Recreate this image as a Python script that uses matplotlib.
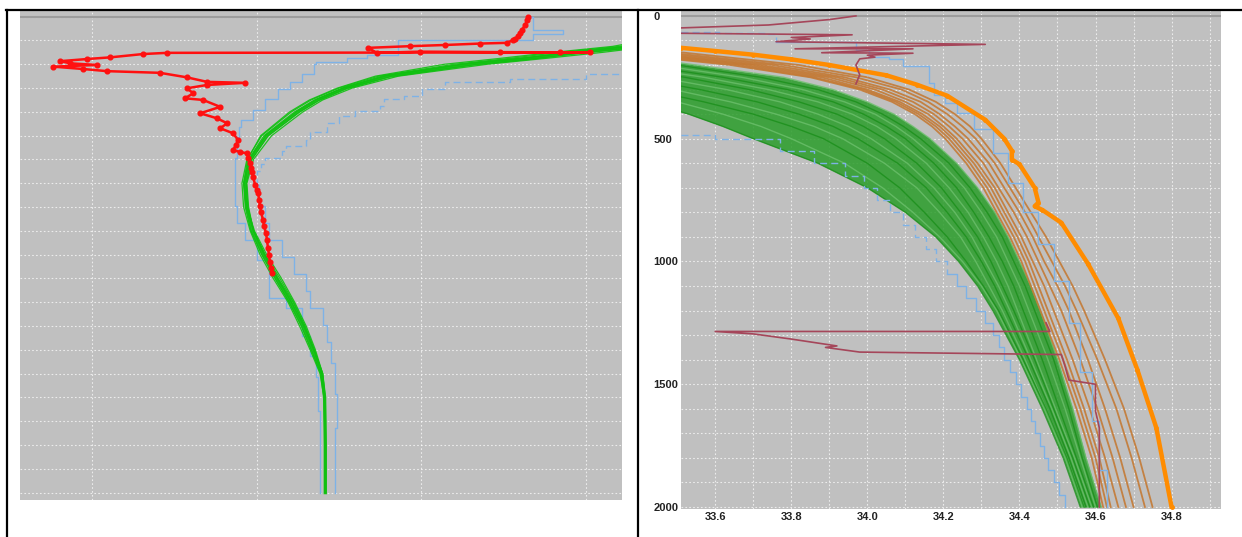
import numpy as np
import matplotlib.pyplot as plt
from matplotlib.lines import Line2D

plt.rcParams['font.family'] = ['Liberation Sans', 'DejaVu Sans']

GRAY = '#c0c0c0'
ZERO_LINE = '#9c9c9c'
BLUE = '#7eb2e6'

# ---------------- left panel data (salinity-like units, depth in m) ----------------
red_s = [35.324, 35.321, 35.315, 35.305, 35.299, 35.293, 35.284, 35.278, 35.260, 35.178,
         35.072, 34.965, 34.838, 34.865, 34.996, 35.239, 35.421, 35.512, 34.228, 34.155,
         34.055, 33.985, 33.903, 33.933, 34.015, 33.882, 33.973, 34.046, 34.206,
         34.288, 34.349, 34.464, 34.349, 34.288, 34.307, 34.282, 34.337, 34.389,
         34.328, 34.379, 34.410, 34.389, 34.428, 34.443, 34.437, 34.428, 34.449, 34.471,
         34.474, 34.480, 34.483, 34.486, 34.489, 34.495, 34.501, 34.504, 34.507, 34.510,
         34.513, 34.519, 34.522, 34.528, 34.531, 34.534, 34.537, 34.540, 34.543, 34.546]
red_d = [0, 14, 35, 56, 70, 82, 94, 98, 110, 113, 119, 124, 131, 152, 147, 149, 150, 150,
         152, 157, 171, 178, 187, 196, 203, 210, 220, 229, 236, 255, 274, 278, 287, 301,
         322, 343, 350, 379, 406, 427, 448, 469, 490, 518, 540, 560, 569, 574, 594, 615,
         636, 653, 673, 708, 729, 741, 771, 796, 821, 855, 880, 909, 939, 972, 1002, 1031,
         1057, 1077]

left_levels = [100, 125, 150, 175, 200, 250, 300, 350, 400, 500, 600, 700, 800,
               900, 1000, 1100, 1200, 1300, 1400, 1500, 1600, 1800, 2000]
left_green = [
    [35.80, 35.70, 35.55, 35.38, 35.20, 34.93, 34.79, 34.70, 34.64, 34.545, 34.49, 34.47,
     34.475, 34.49, 34.525, 34.565, 34.61, 34.645, 34.675, 34.70, 34.708, 34.71, 34.71],
    [35.78, 35.68, 35.50, 35.35, 35.17, 34.91, 34.775, 34.69, 34.63, 34.535, 34.485, 34.468,
     34.472, 34.49, 34.522, 34.562, 34.605, 34.642, 34.672, 34.698, 34.707, 34.709, 34.709],
    [35.75, 35.66, 35.48, 35.33, 35.15, 34.90, 34.77, 34.685, 34.625, 34.53, 34.48, 34.465,
     34.47, 34.487, 34.52, 34.56, 34.603, 34.64, 34.67, 34.697, 34.706, 34.708, 34.708],
    [35.72, 35.62, 35.45, 35.30, 35.12, 34.88, 34.76, 34.675, 34.615, 34.522, 34.475, 34.46,
     34.465, 34.482, 34.515, 34.555, 34.598, 34.635, 34.665, 34.695, 34.705, 34.707, 34.707],
    [35.70, 35.60, 35.42, 35.27, 35.10, 34.87, 34.75, 34.665, 34.605, 34.515, 34.47, 34.455,
     34.46, 34.48, 34.51, 34.55, 34.595, 34.63, 34.662, 34.692, 34.704, 34.707, 34.707],
    [35.68, 35.58, 35.40, 35.24, 35.07, 34.86, 34.745, 34.66, 34.60, 34.512, 34.472, 34.46,
     34.468, 34.49, 34.525, 34.57, 34.612, 34.647, 34.675, 34.698, 34.706, 34.708, 34.708],
    [35.74, 35.64, 35.46, 35.31, 35.13, 34.89, 34.765, 34.68, 34.62, 34.527, 34.478, 34.463,
     34.47, 34.493, 34.53, 34.575, 34.615, 34.65, 34.678, 34.70, 34.707, 34.708, 34.708],
]

left_blue_lo_s = [35.33, 35.338, 35.431, 35.431, 35.338, 34.929, 34.836, 34.775, 34.681,
                  34.675, 34.638, 34.600, 34.563, 34.526, 34.489, 34.452, 34.446, 34.439,
                  34.433, 34.433, 34.439, 34.464, 34.501, 34.538, 34.588, 34.638, 34.662,
                  34.681, 34.687, 34.693, 34.693]
left_blue_lo_d = [0, 57, 57, 74, 100, 160, 172, 189, 201, 240, 276, 304, 347, 391, 434,
                  463, 506, 592, 650, 794, 866, 937, 1024, 1182, 1225, 1340, 1427, 1513,
                  1657, 1801, 2000]
left_blue_hi_s = [35.70, 35.499, 35.499, 35.270, 35.270, 35.071, 35.003, 34.947, 34.886,
                  34.873, 34.799, 34.749, 34.712, 34.662, 34.650, 34.588, 34.576, 34.526,
                  34.514, 34.501, 34.508, 34.526, 34.538, 34.576, 34.613, 34.650, 34.662,
                  34.700, 34.712, 34.724, 34.737, 34.743, 34.739]
left_blue_hi_d = [240, 240, 261, 264, 276, 304, 333, 347, 376, 398, 419, 448, 484, 520,
                  542, 563, 592, 621, 650, 707, 794, 866, 937, 1009, 1081, 1153, 1225,
                  1297, 1369, 1455, 1585, 1729, 2000]

# ---------------- right panel data (salinity, depth in m) ----------------
levels = [100, 150, 200, 250, 300, 350, 400, 450, 500, 600, 700, 800, 900, 1000,
          1100, 1200, 1400, 1600, 1800, 2000]

green = [
    [33.00, 33.30, 33.55, 33.78, 33.91, 34.00, 34.07, 34.12, 34.165, 34.235, 34.29, 34.335, 34.37, 34.40, 34.43, 34.455, 34.50, 34.54, 34.575, 34.615],
    [33.00, 33.25, 33.50, 33.72, 33.87, 33.97, 34.04, 34.095, 34.14, 34.215, 34.27, 34.315, 34.355, 34.385, 34.415, 34.44, 34.49, 34.53, 34.565, 34.605],
    [33.00, 33.20, 33.45, 33.67, 33.83, 33.94, 34.02, 34.075, 34.12, 34.195, 34.255, 34.30, 34.34, 34.37, 34.40, 34.425, 34.475, 34.52, 34.56, 34.60],
    [32.95, 33.15, 33.40, 33.62, 33.79, 33.91, 33.99, 34.05, 34.10, 34.175, 34.235, 34.28, 34.32, 34.355, 34.385, 34.41, 34.46, 34.505, 34.55, 34.595],
    [32.95, 33.12, 33.35, 33.57, 33.74, 33.87, 33.96, 34.025, 34.075, 34.155, 34.215, 34.265, 34.305, 34.34, 34.37, 34.395, 34.445, 34.495, 34.545, 34.59],
    [32.95, 33.10, 33.30, 33.52, 33.69, 33.82, 33.92, 33.99, 34.045, 34.13, 34.195, 34.245, 34.29, 34.325, 34.355, 34.385, 34.44, 34.49, 34.54, 34.585],
    [32.90, 33.08, 33.25, 33.45, 33.63, 33.77, 33.87, 33.95, 34.01, 34.105, 34.175, 34.23, 34.275, 34.31, 34.345, 34.375, 34.43, 34.485, 34.535, 34.58],
    [32.90, 33.05, 33.20, 33.38, 33.56, 33.71, 33.82, 33.91, 33.975, 34.08, 34.155, 34.21, 34.26, 34.30, 34.335, 34.365, 34.425, 34.48, 34.53, 34.575],
    [32.90, 33.03, 33.17, 33.32, 33.49, 33.64, 33.76, 33.86, 33.935, 34.045, 34.13, 34.19, 34.245, 34.285, 34.32, 34.355, 34.415, 34.47, 34.525, 34.57],
    [32.90, 33.02, 33.14, 33.27, 33.42, 33.57, 33.70, 33.80, 33.885, 34.00, 34.085, 34.15, 34.21, 34.26, 34.305, 34.345, 34.41, 34.47, 34.525, 34.57],
    [32.90, 33.00, 33.12, 33.23, 33.36, 33.50, 33.62, 33.72, 33.80, 33.94, 34.04, 34.12, 34.19, 34.25, 34.30, 34.34, 34.405, 34.465, 34.52, 34.565],
    [32.90, 33.00, 33.10, 33.20, 33.30, 33.42, 33.53, 33.62, 33.70, 33.87, 34.00, 34.10, 34.18, 34.24, 34.29, 34.33, 34.40, 34.46, 34.515, 34.56],
]

brown = [
    [33.20, 33.52, 33.82, 34.00, 34.11, 34.18, 34.23, 34.27, 34.30, 34.35, 34.39, 34.43, 34.47, 34.505, 34.54, 34.57, 34.625, 34.675, 34.715, 34.75],
    [33.15, 33.48, 33.78, 33.97, 34.09, 34.16, 34.21, 34.25, 34.285, 34.335, 34.375, 34.415, 34.45, 34.485, 34.52, 34.55, 34.605, 34.655, 34.695, 34.73],
    [33.10, 33.45, 33.75, 33.94, 34.06, 34.14, 34.19, 34.23, 34.265, 34.32, 34.36, 34.40, 34.435, 34.465, 34.50, 34.53, 34.58, 34.625, 34.665, 34.70],
    [33.10, 33.42, 33.72, 33.92, 34.04, 34.12, 34.175, 34.215, 34.25, 34.305, 34.345, 34.385, 34.42, 34.45, 34.48, 34.51, 34.56, 34.605, 34.645, 34.68],
    [33.05, 33.40, 33.70, 33.90, 34.02, 34.10, 34.16, 34.20, 34.235, 34.29, 34.335, 34.37, 34.405, 34.435, 34.465, 34.49, 34.54, 34.585, 34.625, 34.66],
    [33.00, 33.38, 33.68, 33.88, 34.00, 34.085, 34.145, 34.19, 34.225, 34.28, 34.325, 34.36, 34.395, 34.425, 34.45, 34.475, 34.525, 34.57, 34.61, 34.64],
    [33.00, 33.35, 33.66, 33.86, 33.99, 34.075, 34.135, 34.18, 34.215, 34.27, 34.315, 34.35, 34.385, 34.415, 34.44, 34.465, 34.515, 34.56, 34.60, 34.63],
    [33.00, 33.33, 33.64, 33.85, 33.98, 34.065, 34.125, 34.17, 34.205, 34.26, 34.305, 34.34, 34.375, 34.405, 34.43, 34.455, 34.505, 34.55, 34.59, 34.62],
]

orange_s = [33.40, 33.51, 33.60, 33.70, 33.80, 33.90, 34.05, 34.13, 34.21, 34.31, 34.36,
            34.38, 34.38, 34.40, 34.44, 34.45, 34.44, 34.46, 34.51, 34.58, 34.66, 34.71,
            34.76, 34.80]
orange_d = [115, 130, 143, 158, 177, 200, 242, 280, 325, 423, 500, 549, 585, 604, 700,
            760, 775, 790, 842, 1009, 1232, 1441, 1678, 2000]

blue_lo_s = [33.51, 33.60, 33.77, 33.86, 33.94, 33.99, 34.025, 34.06, 34.095, 34.125,
             34.155, 34.18, 34.21, 34.235, 34.26, 34.285, 34.31, 34.33, 34.345, 34.36,
             34.375, 34.39, 34.405, 34.42, 34.43, 34.44, 34.455, 34.465, 34.475, 34.49,
             34.505, 34.52]
blue_lo_d = [486, 500, 550, 600, 650, 700, 750, 800, 850, 900, 950, 1000, 1050, 1100,
             1150, 1200, 1250, 1300, 1350, 1400, 1450, 1500, 1550, 1600, 1650, 1700,
             1750, 1800, 1850, 1900, 1950, 2000]
blue_hi_s = [33.51, 33.61, 33.73, 33.76, 33.97, 34.005, 34.058, 34.095, 34.163, 34.174,
             34.205, 34.236, 34.28, 34.33, 34.37, 34.41, 34.45, 34.49, 34.53, 34.56,
             34.59, 34.61, 34.63]
blue_hi_d = [64, 70, 72, 105, 138, 166, 177, 206, 274, 322, 353, 395, 460, 560, 680,
             800, 930, 1080, 1250, 1450, 1650, 1850, 2000]

maroon_top_s = [33.97, 33.90, 33.74, 33.45, 33.45, 33.96, 33.80, 33.85, 33.76, 34.31,
                33.81, 34.12, 33.88, 34.12, 34.00, 34.02, 33.98, 33.97, 33.98, 33.97]
maroon_top_d = [0, 15, 37, 52, 70, 77, 88, 94, 105, 116, 134, 134, 150, 152, 160, 168,
                175, 200, 240, 277]
maroon_low_s = [34.47, 34.48, 33.60, 33.70, 33.80, 33.92, 33.89, 33.98, 34.51, 34.52,
                34.53, 34.60, 34.60, 34.61, 34.61]
maroon_low_d = [1250, 1285, 1285, 1295, 1316, 1344, 1350, 1369, 1379, 1427, 1483, 1500,
                1609, 1678, 2000]

# ---------------- figure ----------------
fig = plt.figure(figsize=(12.42, 5.37), dpi=100)
W, H = 1242, 537

ax1 = fig.add_axes([20 / W, 1 - 500 / H, 602 / W, 490 / H])
ax2 = fig.add_axes([681 / W, 1 - 509 / H, 540 / W, 499 / H])

for ax in (ax1, ax2):
    ax.set_facecolor(GRAY)
    for sp in ax.spines.values():
        sp.set_visible(False)
    ax.grid(True, which='both', color='white', linestyle=(0, (1.5, 2)),
            linewidth=0.8, alpha=0.7)
    ax.set_axisbelow(True)
    ax.tick_params(which='both', length=0)

# left panel
ax1.set_xlim(33.781, 35.609)
ax1.set_ylim(2031, -28)
ax1.set_xticks([34.0, 34.5, 35.0, 35.5])
ax1.set_yticks(np.arange(0, 2001, 100))
ax1.set_xticklabels([])
ax1.set_yticklabels([])
ax1.axhline(0, color=ZERO_LINE, lw=1.5, zorder=1.5)

ax1.plot(left_blue_lo_s, left_blue_lo_d, color=BLUE, lw=1.0, drawstyle='steps-post', zorder=2)
cut = int(np.searchsorted(left_blue_hi_d, 700))
ax1.plot(left_blue_hi_s[:cut + 1], left_blue_hi_d[:cut + 1], color=BLUE, lw=1.0,
         ls=(0, (5, 3)), drawstyle='steps-post', zorder=2)
ax1.plot(left_blue_hi_s[cut:], left_blue_hi_d[cut:], color=BLUE, lw=1.0,
         drawstyle='steps-post', zorder=2)

for i, prof in enumerate(left_green):
    ax1.plot(prof, left_levels, color='#10c010', lw=2.4 if i == 2 else 0.9,
             alpha=0.9, zorder=3)
ax1.plot(red_s, red_d, color='#ff1010', lw=1.8, marker='o', ms=3.4, zorder=4)

# right panel
ax2.set_xlim(33.51, 34.93)
ax2.set_ylim(2008, -24)
ax2.set_xticks(np.arange(33.6, 34.81, 0.2))
ax2.set_xticks(np.arange(33.7, 34.91, 0.2), minor=True)
ax2.set_yticks(np.arange(0, 2001, 500))
ax2.set_yticks(np.arange(100, 2000, 100), minor=True)
ax2.set_xticklabels([f'{v:.1f}' for v in np.arange(33.6, 34.81, 0.2)])
ax2.tick_params(axis='x', pad=2)
ax2.tick_params(axis='y', pad=20)
for lab in ax2.get_yticklabels():
    lab.set_horizontalalignment('left')
for lab in ax2.get_xticklabels() + ax2.get_yticklabels():
    lab.set_fontsize(8)
    lab.set_fontweight('bold')
    lab.set_color('#222222')
ax2.axhline(0, color=ZERO_LINE, lw=1.5, zorder=1.5)

ax2.fill_betweenx(levels, green[-1], green[0], color='#2a9d2a', alpha=0.85, lw=0, zorder=2)
for i, prof in enumerate(green):
    ax2.plot(prof, levels, color='#1a8f1a' if i % 2 else '#6cc06c', lw=1.0,
             alpha=0.8, zorder=2.5)
for prof in brown:
    ax2.plot(prof, levels, color='#c47a35', lw=1.3, alpha=0.9, zorder=3)

cut2 = int(np.searchsorted(blue_lo_d, 1050))
ax2.plot(blue_lo_s[:cut2 + 1], blue_lo_d[:cut2 + 1], color=BLUE, lw=1.0,
         ls=(0, (5, 3)), drawstyle='steps-post', zorder=3.5)
ax2.plot(blue_lo_s[cut2:], blue_lo_d[cut2:], color=BLUE, lw=1.0,
         drawstyle='steps-post', zorder=3.5)
ax2.plot(blue_hi_s[:4], blue_hi_d[:4], color=BLUE, lw=1.0, ls=(0, (5, 3)),
         drawstyle='steps-post', zorder=3.5)
ax2.plot(blue_hi_s[3:], blue_hi_d[3:], color=BLUE, lw=1.0,
         drawstyle='steps-post', zorder=3.5)

ax2.plot(orange_s, orange_d, color='#ff8c00', lw=3.2, marker='o', ms=2.5, zorder=4)
ax2.plot(maroon_top_s, maroon_top_d, color='#a5465a', lw=1.2, zorder=5)
ax2.plot(maroon_low_s, maroon_low_d, color='#a5465a', lw=1.2, zorder=5)

# table borders
top = 1 - 9.5 / H
fig.add_artist(Line2D([6 / W, 1], [top, top], color='black', lw=1.6))
fig.add_artist(Line2D([7 / W, 7 / W], [0, top], color='black', lw=1.6))
fig.add_artist(Line2D([638.5 / W, 638.5 / W], [0, top], color='black', lw=1.6))

fig.savefig('out.png', dpi=100)
